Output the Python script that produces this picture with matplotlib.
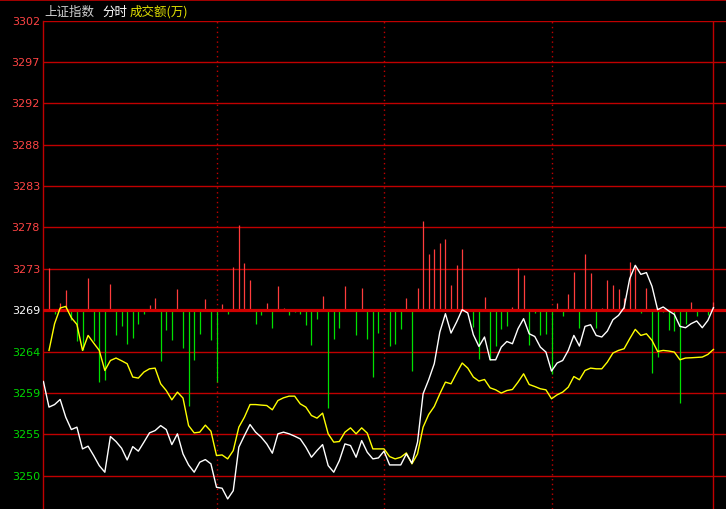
import numpy as np
import matplotlib
matplotlib.use("Agg")
import matplotlib.pyplot as plt
from matplotlib.lines import Line2D

plt.rcParams['font.family'] = ['Noto Sans CJK SC', 'DejaVu Sans']

# ---------------- data ----------------
title_parts = ['上证指数', '分时', '成交额(万)']
prev_close = 3269.2
grid_step = 4.72
tick_steps = [-4, -3, -2, -1, 0, 1, 2, 3, 4, 5, 6, 7]
tick_labels = ['3250', '3255', '3259', '3264', '3269', '3273',
               '3278', '3283', '3288', '3292', '3297', '3302']
divider_minutes = [60, 120, 180]

# index price, one point every 2 minutes starting at minute -2
index_price = [
    3261.06,
    3258.14, 3258.43, 3259.01, 3256.99, 3255.58, 3255.85, 3253.37, 3253.68, 3252.61, 3251.46,
    3250.71, 3254.78, 3254.21, 3253.45, 3252.11, 3253.63, 3253.11, 3254.14, 3255.20, 3255.46,
    3256.03, 3255.58, 3253.86, 3255.09, 3252.80, 3251.54, 3250.71, 3251.85, 3252.15, 3251.66,
    3248.99, 3248.88, 3247.66, 3248.60, 3253.57, 3254.89, 3256.15, 3255.28, 3254.71, 3253.94,
    3252.88, 3255.09, 3255.28, 3255.09, 3254.82, 3254.51, 3253.57, 3252.42, 3253.18, 3253.86,
    3251.46, 3250.71, 3252.03, 3253.94, 3253.75, 3252.42, 3254.32, 3252.99, 3252.23, 3252.34,
    3253.11, 3251.54, 3251.54, 3251.54, 3252.80, 3251.74, 3254.14, 3259.66, 3261.26, 3263.09,
    3266.71, 3268.80, 3266.59, 3267.85, 3269.26, 3268.88, 3266.40, 3265.06, 3266.14, 3263.54,
    3263.54, 3264.99, 3265.63, 3265.37, 3267.09, 3268.23, 3266.51, 3266.20, 3264.99, 3264.42,
    3262.25, 3263.17, 3263.46, 3264.61, 3266.32, 3265.11, 3267.35, 3267.54, 3266.32, 3266.14,
    3266.82, 3268.11, 3268.61, 3269.49, 3272.80, 3274.32, 3273.29, 3273.49, 3271.92, 3269.26,
    3269.57, 3269.11, 3268.72, 3267.35, 3267.20, 3267.66, 3267.97, 3267.20, 3268.03, 3269.49,
]

# average price (yellow), every 2 minutes from minute 0
avg_price = [
    3264.61, 3267.66, 3269.45, 3269.63, 3268.34, 3267.58, 3264.61, 3266.32, 3265.45, 3264.61,
    3262.32, 3263.46, 3263.74, 3263.43, 3263.09, 3261.57, 3261.45, 3262.14, 3262.51, 3262.59,
    3260.80, 3260.03, 3258.97, 3259.85, 3259.17, 3256.03, 3255.20, 3255.28, 3256.08, 3255.39,
    3252.61, 3252.68, 3252.23, 3253.18, 3255.85, 3256.99, 3258.43, 3258.43, 3258.37, 3258.32,
    3257.83, 3258.89, 3259.20, 3259.39, 3259.39, 3258.51, 3258.14, 3257.18, 3256.88, 3257.45,
    3255.09, 3254.14, 3254.21, 3255.28, 3255.77, 3255.09, 3255.77, 3255.17, 3253.37, 3253.37,
    3253.37, 3252.49, 3252.23, 3252.42, 3252.91, 3251.66, 3252.80, 3255.85, 3257.29, 3258.21,
    3259.66, 3260.99, 3260.80, 3262.02, 3263.17, 3262.59, 3261.57, 3261.11, 3261.29, 3260.34,
    3260.11, 3259.74, 3260.03, 3260.15, 3260.99, 3261.94, 3260.72, 3260.49, 3260.23, 3260.11,
    3259.09, 3259.54, 3259.85, 3260.42, 3261.63, 3261.26, 3262.32, 3262.59, 3262.51, 3262.51,
    3263.28, 3264.31, 3264.61, 3264.80, 3265.94, 3267.01, 3266.32, 3266.51, 3265.75, 3264.49,
    3264.61, 3264.54, 3264.42, 3263.54, 3263.74, 3263.77, 3263.81, 3263.85, 3264.15, 3264.72,
]

# red/green strength bars, every 2 minutes from minute 0 (price-offset units)
bar_values = [
    4.82, -0.40, 0.82, 2.34, -1.17, -3.52, -4.59, 3.71, -3.52, -8.14,
    -7.94, 3.03, -2.88, -1.85, -3.83, -3.14, -1.54, -0.40, 0.63, 1.43,
    -5.85, -2.23, -3.45, 2.46, -4.29, -10.99, -5.74, -2.77, 1.31, -3.45,
    -8.14, 0.74, -0.40, 4.94, 9.77, 5.43, 3.41, -1.54, -0.59, 0.86,
    -2.00, 2.72, 0.29, -0.59, -0.25, -0.48, -1.66, -4.02, -0.97, 1.66,
    -11.11, -3.26, -2.00, 2.80, -0.14, -2.80, 2.57, -3.26, -7.68, -2.57,
    0.29, -4.14, -3.83, -2.19, 1.43, -6.99, 2.57, 10.23, 6.46, 7.03,
    7.71, 8.17, 2.91, 5.20, 7.03, 0.17, -1.89, -5.54, 1.54, -5.71,
    -4.14, -2.19, -1.85, 0.40, 4.80, 4.06, -4.02, -0.31, -2.80, -2.69,
    -7.26, 0.86, -0.69, 1.89, 4.37, -2.00, 6.46, 4.29, -2.00, 0.29,
    3.49, 2.91, 2.46, 1.43, 5.54, 5.20, -0.37, 2.57, -7.20, -5.35,
    -0.19, -2.31, -2.42, -10.55, -1.54, 0.94, -0.69, 0.00, -0.59, 0.94,
]

# ---------------- figure ----------------
W, H = 726, 510
fig = plt.figure(figsize=(W / 100, H / 100), dpi=100, facecolor='black')
ax = fig.add_axes([43 / W, 0, 1 - 43 / W, (H - 21.7) / H])
ax.set_facecolor('black')
ax.set_xlim(-2.149, 242.5)
ax.set_ylim(3246.51, 3302.24)
for name, sp in ax.spines.items():
    sp.set_visible(name == 'left')
ax.spines['left'].set_color('#c00000')
ax.spines['left'].set_linewidth(1.0)
ax.set_xticks([])
ax.set_yticks([])

grid_red = '#c00000'
levels = [prev_close + k * grid_step for k in tick_steps]
for k, lv, lab in zip(tick_steps, levels, tick_labels):
    if k == 0:
        ax.axhline(lv, color='#d00000', lw=2.3, zorder=3)
        col = '#ffffff'
    else:
        ax.axhline(lv, color=grid_red, lw=1.0, zorder=1)
        col = '#ff4444' if k > 0 else '#00d800'
    ax.annotate(lab, xy=(0, lv), xycoords=('axes fraction', 'data'),
                xytext=(-3, 0), textcoords='offset pixels', ha='right', va='center',
                color=col, fontsize=8, family='DejaVu Sans', annotation_clip=False)

for d in divider_minutes:
    ax.axvline(d, color=grid_red, lw=1.0, ls=(0, (1, 2.5)), zorder=1)
ax.axvline(237.85, color=grid_red, lw=1.0, zorder=1)

bar_minutes = np.arange(0, 2 * len(bar_values), 2)
bv = np.array(bar_values)
bar_colors = ['#ff3c3c' if v > 0 else '#00e000' for v in bv]
ax.vlines(bar_minutes, prev_close, prev_close + bv, colors=bar_colors, lw=0.9, zorder=2)

idx_minutes = np.arange(-2, -2 + 2 * len(index_price), 2)
avg_minutes = np.arange(0, 2 * len(avg_price), 2)
ax.plot(avg_minutes, avg_price, color='#ffff00', lw=1.0, zorder=4)
ax.plot(idx_minutes, index_price, color='#ffffff', lw=1.0, zorder=5)

# top border line
fig.add_artist(Line2D([0, 1], [1 - 0.8 / H, 1 - 0.8 / H], color=grid_red, lw=1.2))

# title
title_x = [44, 102, 130]
title_cols = ['#d0d0d0', '#ffffff', '#e0e000']
for t, x, c in zip(title_parts, title_x, title_cols):
    fig.text(x / W, 1 - 12 / H, t, color=c, fontsize=9, ha='left', va='center')

fig.savefig('out.png', dpi=100, facecolor='black')
